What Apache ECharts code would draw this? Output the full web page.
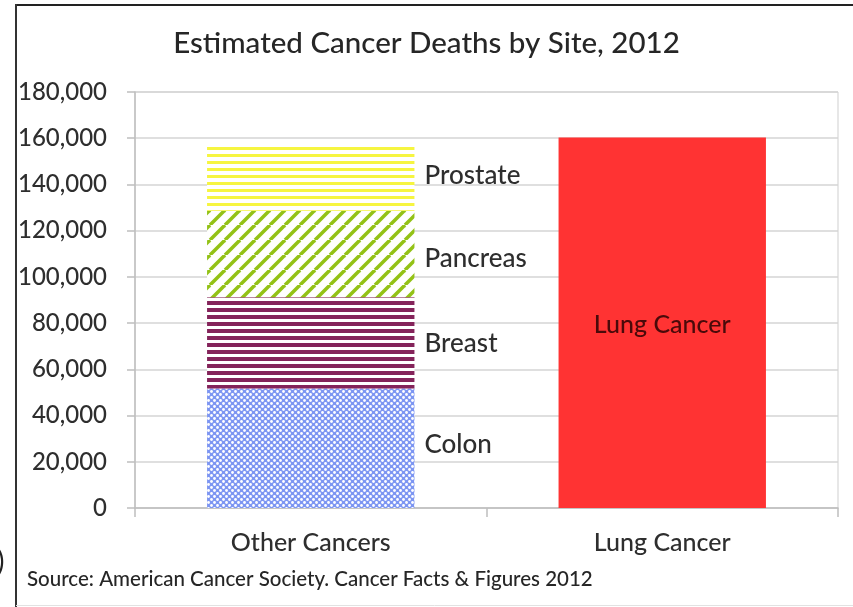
<!DOCTYPE html>
<html>
<head>
<meta charset="utf-8">
<title>Estimated Cancer Deaths by Site, 2012</title>
<script src="https://cdn.jsdelivr.net/npm/echarts@6/dist/echarts.min.js"></script>
<style>
  html, body { margin: 0; padding: 0; background: #fff; }
  #chart { width: 853px; height: 607px; }
</style>
</head>
<body>
<div id="chart"></div>
<script>
const categories = ['Other Cancers', 'Lung Cancer']
const siteNames = ['Colon', 'Breast', 'Pancreas', 'Prostate']
const siteDeaths = [51690, 39510, 37390, 28170]
const lungDeaths = 160340
const yTicks = [0, 20000, 40000, 60000, 80000, 100000, 120000, 140000, 160000, 180000]

const FONT = 'Lato'
const TEXT = '#2e2e2e'

// fill patterns like the Excel ones
function makeTile(size, draw) {
  const c = document.createElement('canvas')
  c.width = size
  c.height = size
  const ctx = c.getContext('2d')
  ctx.fillStyle = '#fff'
  ctx.fillRect(0, 0, size, size)
  draw(ctx, size)
  return { image: c, repeat: 'repeat' }
}

const hStripes = (color, thick) => (ctx, s) => {
  ctx.fillStyle = color
  ctx.fillRect(0, 0, s, thick)
}

const patterns = {
  Colon: makeTile(6, (ctx) => {
    ctx.fillStyle = '#7d96f2'
    ctx.fillRect(0, 0, 6, 6)
    ctx.fillStyle = '#fff'
    ;[[1.5, 1.5], [4.5, 4.5]].forEach(([x, y]) => {
      ctx.beginPath()
      ctx.arc(x, y, 1.4, 0, Math.PI * 2)
      ctx.fill()
    })
  }),
  Breast: makeTile(7, hStripes('#84235a', 4)),
  Pancreas: makeTile(15, (ctx, s) => {
    ctx.strokeStyle = '#93c216'
    ctx.lineWidth = 3.5
    for (let k = -1; k <= 1; k++) {
      ctx.beginPath()
      ctx.moveTo(k * s, s)
      ctx.lineTo(k * s + s, 0)
      ctx.stroke()
    }
  }),
  Prostate: makeTile(7, hStripes('#f6f540', 3))
}

// excel nudges the labels a little off the segment middle
const labelNudge = { Colon: [0, -4], Breast: [0, 1], Pancreas: [0, 5], Prostate: [0, -3] }

const chart = echarts.init(document.getElementById('chart'))

const series = siteNames.map((name, i) => ({
  name,
  type: 'bar',
  stack: 'deaths',
  barWidth: '59%',
  data: [siteDeaths[i], '-'],
  itemStyle: { color: patterns[name] },
  label: {
    show: true,
    position: 'right',
    distance: 10,
    offset: labelNudge[name],
    formatter: '{a}',
    color: TEXT,
    fontFamily: FONT,
    fontWeight: 500,
    fontSize: 26
  },
  emphasis: { disabled: true }
}))

series.push({
  name: 'Lung Cancer',
  type: 'bar',
  stack: 'deaths',
  barWidth: '59%',
  data: ['-', lungDeaths],
  itemStyle: { color: '#ff3333' },
  label: {
    show: true,
    position: 'inside',
    offset: [0, 2],
    formatter: '{a}',
    color: '#4a0a0a',
    fontFamily: FONT,
    fontWeight: 500,
    fontSize: 25
  },
  emphasis: { disabled: true }
})

chart.setOption({
  animation: false,
  title: {
    text: 'Estimated Cancer Deaths by Site, 2012',
    left: 'center',
    top: 23,
    textStyle: { fontFamily: FONT, fontSize: 29.5, fontWeight: 500, color: '#262626' }
  },
  grid: {
    left: 135,
    right: 15,
    top: 92,
    bottom: 99,
    show: true,
    borderColor: '#cfcfcf',
    borderWidth: 1
  },
  xAxis: {
    type: 'category',
    data: categories,
    axisLine: { lineStyle: { color: '#bfbfbf', width: 1.5 } },
    axisTick: { show: true, length: 9, lineStyle: { color: '#bfbfbf', width: 1.5 } },
    axisLabel: { margin: 22, color: TEXT, fontFamily: FONT, fontWeight: 500, fontSize: 25 }
  },
  yAxis: {
    type: 'value',
    min: yTicks[0],
    max: yTicks[yTicks.length - 1],
    interval: yTicks[1] - yTicks[0],
    axisLine: { show: true, lineStyle: { color: '#bfbfbf', width: 1.5 } },
    axisTick: { show: true, length: 8, lineStyle: { color: '#bfbfbf', width: 1.5 } },
    splitLine: { lineStyle: { color: '#d4d4d4', width: 1.5 } },
    axisLabel: {
      margin: 28,
      color: TEXT,
      fontFamily: FONT,
      fontWeight: 500,
      fontSize: 24,
      formatter: v => v.toLocaleString('en-US')
    }
  },
  graphic: [
    { type: 'line', shape: { x1: 16, y1: 5, x2: 853, y2: 5 }, style: { stroke: '#222', lineWidth: 2 } },
    { type: 'line', shape: { x1: 16, y1: 4, x2: 16, y2: 607 }, style: { stroke: '#333', lineWidth: 2 } },
    { type: 'line', shape: { x1: 16, y1: 605.5, x2: 853, y2: 605.5 }, style: { stroke: '#e2e2e2', lineWidth: 1 } },
    {
      type: 'text', left: 27, top: 569,
      style: { text: 'Source: American Cancer Society. Cancer Facts & Figures 2012', fill: '#262626', font: '500 20.5px ' + FONT }
    },
    {
      type: 'text', x: -3, y: 548,
      style: { text: ')', fill: '#222', font: '28px ' + FONT }
    }
  ],
  series
})
</script>
</body>
</html>
